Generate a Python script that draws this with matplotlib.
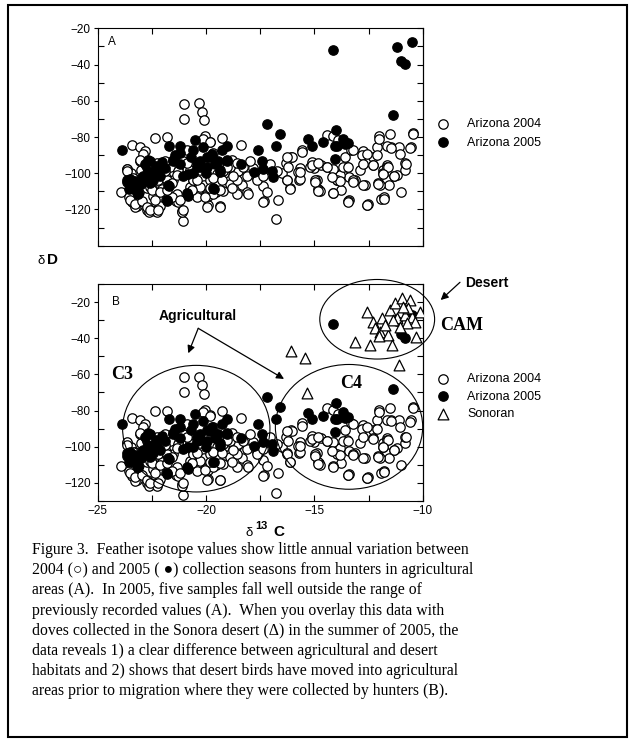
import numpy as np
import matplotlib
matplotlib.use('Agg')
import matplotlib.pyplot as plt
from matplotlib.ticker import MultipleLocator
from matplotlib.patches import Ellipse, Rectangle

plt.rcParams['font.family'] = ['Liberation Sans', 'DejaVu Sans']
plt.rcParams['font.size'] = 8.5
plt.rcParams['axes.linewidth'] = 0.8

# Arizona 2004 (open circles): d13C, dD
az04_x = [-23.92, -23.4, -23.05, -22.8, -22.34, -21.78, -21.0, -21.0, -20.33, -20.2, -20.1, -20.05, -19.27, -19.83, -18.37,
          -21.04, -21.09, -21.4, -19.9, -19.34, -22.65, -22.34, -22.15, -23.18, -23.4, -23.55, -23.08, -22.71, -22.99, -23.64,
          -23.46, -22.52, -22.39, -22.06, -21.84, -21.69, -21.5, -21.31, -20.76, -20.61, -20.38, -20.1, -19.92, -19.55, -19.45,
          -19.18, -18.99, -18.8, -18.62, -18.34, -18.11, -17.82, -17.65, -17.37, -17.31, -16.70, -16.77, -16.48, -16.25, -16.14,
          -16.07, -16.33, -15.64, -15.55, -15.73, -15.02, -14.89, -14.80, -14.71, -14.43, -14.13, -14.09, -13.96, -13.78, -13.5,
          -13.59, -13.4, -13.31, -13.13, -12.88, -12.75, -12.66, -12.53, -12.29, -12.1, -12.01, -11.82, -11.67, -11.92, -11.54,
          -11.64, -11.45, -11.17, -11.08, -10.99, -10.8, -10.52, -10.43, -10.8,
          -23.66, -22.9, -23.43, -23.28, -22.74, -22.62, -22.28, -22.12, -22.43, -21.28, -21.12, -20.13, -19.82, -18.51, -17.97,
          -18.12, -18.59, -18.05, -17.36, -17.2, -16.28, -16.13, -16.2, -16.05, -16.28, -15.74, -15.66, -15.59, -15.2, -15.12,
          -14.97, -14.82, -14.74, -14.43, -14.13, -14.16, -13.9,
          -23.05, -22.74, -22.28, -22.05, -21.66, -21.51, -21.35, -20.74, -20.59, -20.28, -20.05, -19.82, -19.51, -19.2, -19.2,
          -18.9, -18.9, -23.28, -22.59, -22.2, -21.89, -21.28, -21.05, -20.89, -23.05, -21.82, -20.43, -21.59, -19.67, -18.59,
          -18.28, -17.66, -17.36, -17.05, -16.74,
          -12.0, -11.51, -10.44, -11.66, -11.47, -10.59, -11.05, -10.77, -11.33, -11.82, -11.64, -12.05, -11.97, -11.77, -12.59,
          -13.44, -12.74, -12.28, -12.82, -13.2, -12.59, -12.13, -13.39, -13.2, -13.82, -13.97, -14.13, -13.67, -14.13, -13.44,
          -12.59, -11.79, -14.97, -14.82, -12.05, -11.31, -11.59, -11.82, -13.44, -13.23, -13.82, -14.17, -14.43, -15.12, -14.82,
          -12.74, -12.31, -15.66,
          -23.63, -23.36, -23.51, -23.28, -22.97, -22.74, -22.59, -22.2, -22.36, -22.51, -22.12, -21.82, -21.59, -21.35, -21.2,
          -21.05, -20.66, -20.43, -20.05, -19.82, -19.67, -19.36, -19.28, -19.05, -18.82, -18.74, -18.59, -19.97, -19.36,
          -23.05, -22.74, -22.28, -21.89, -20.89, -20.28, -19.67]
az04_y = [-110.6, -84.3, -85.3, -87.5, -80.3, -80.1, -61.7, -69.8, -61.5, -66.1, -70.7, -79.7, -80.3, -82.5, -84.2,
          -126.6, -120.6, -115.6, -117.6, -118.3, -119.8, -120.6, -118.9, -118.3, -115.6, -113.2, -110.1, -108.2, -98.1, -97.8,
          -100.0, -104.6, -112.9, -107.3, -114.7, -104.6, -100.0, -97.2, -98.1, -103.6, -110.1, -106.4, -112.8, -110.1, -104.6,
          -100.0, -96.3, -92.6, -100.0, -106.4, -110.1, -97.2, -102.7, -107.3, -115.6, -114.7, -125.3, -100.0, -103.6, -108.2,
          -90.8, -94.4, -97.2, -87.1, -103.6, -97.2, -103.6, -109.2, -95.4, -78.8, -79.7, -100.0, -103.6, -109.2, -96.3,
          -90.8, -115.0, -87.1, -103.6, -98.1, -88.0, -106.4, -116.9, -90.8, -85.3, -79.7, -98.1, -103.6, -114.3, -106.4,
          -95.4, -85.3, -100.9, -85.3, -110.1, -98.1, -85.3, -77.9, -94.4,
          -97.6, -89.3, -116.1, -118.8, -120.1, -121.6, -121.6, -117.9, -112.4, -116.1, -121.6, -80.9, -82.8, -98.5, -93.0,
          -101.3, -111.4, -111.4, -116.1, -110.5, -104.0, -108.6, -96.7, -91.1, -91.1, -99.4, -103.1, -88.4, -96.7, -93.9,
          -104.0, -108.6, -110.0, -96.7, -110.9, -102.2, -81.9,
          -93.0, -96.7, -98.5, -108.6, -96.7, -104.0, -111.4, -107.8, -104.0, -107.8, -112.4, -104.0, -100.3, -98.5, -109.6,
          -105.9, -96.7, -103.1, -107.8, -104.0, -93.0, -98.5, -93.0, -87.4, -115.1, -104.0, -113.3, -113.3, -111.4, -104.0,
          -96.7, -104.0, -101.3, -94.8, -98.5,
          -80.9, -78.6, -78.6, -85.2, -85.9, -86.1, -89.3, -94.8, -101.7, -100.0, -96.3, -105.3, -106.4, -113.3, -117.3,
          -115.5, -106.4, -95.2, -90.2, -87.4, -89.3, -90.2, -102.2, -104.0, -100.7, -104.0, -97.6, -96.7, -111.1, -115.7,
          -117.5, -114.2, -105.0, -109.6, -105.9, -101.8, -96.3, -100.3, -96.7, -104.6, -104.4, -102.2, -96.7, -95.7, -94.5,
          -94.8, -95.7, -99.4,
          -99.0, -102.8, -114.7, -116.9, -115.6, -118.4, -120.2, -120.2, -114.7, -109.2, -110.1, -109.2, -105.5, -100.9, -114.7,
          -120.2, -109.2, -103.6, -112.9, -108.3, -102.8, -109.2, -103.6, -96.3, -108.3, -101.8, -94.5, -118.4, -118.4,
          -92.6, -96.3, -94.5, -99.0, -94.5, -98.2, -88.9]

# Arizona 2005 (filled circles)
az05_x = [-23.86, -23.66, -23.51, -23.36, -23.2, -23.54, -23.13, -22.9, -22.82, -22.59, -22.51, -22.43, -22.12, -22.05,
          -21.82, -21.7, -21.51, -21.43, -21.2, -21.05, -20.85, -20.82, -20.59, -20.51, -20.43, -20.28, -20.13, -19.97,
          -19.82, -19.74, -19.62, -19.44, -19.36, -19.28, -19.05, -19.05, -17.59, -17.43, -17.36, -16.97, -16.92, -17.2,
          -16.59, -16.77, -15.28, -15.12, -14.59, -14.02, -14.05, -14.05, -14.13, -11.2, -10.48, -11.0, -10.82, -11.39,
          -13.67, -13.97, -13.59, -13.44, -21.69, -18.4, -17.8, -23.3, -23.0, -22.7, -21.9, -21.2, -20.7, -20.0, -19.6, -22.3,
          -23.66, -23.28, -23.13, -22.9, -22.66, -22.59, -22.28, -21.82, -21.74, -21.51, -21.2, -20.89, -20.59, -20.43,
          -20.28, -19.97, -19.67, -19.36, -19.05]
az05_y = [-87.4, -105.0, -103.1, -107.4, -109.6, -108.6, -111.4, -102.2, -94.8, -93.0, -101.3, -103.5, -101.8, -93.9,
          -115.1, -106.8, -93.0, -90.2, -84.7, -101.3, -112.4, -100.3, -87.4, -81.9, -96.7, -93.0, -85.6, -96.7,
          -91.1, -89.3, -108.6, -93.0, -99.4, -87.4, -84.7, -93.0, -87.4, -93.0, -97.6, -98.5, -102.2, -72.6,
          -78.2, -84.7, -81.3, -84.7, -82.8, -76.0, -84.7, -92.0, -32.0, -30.2, -27.4, -37.9, -39.8, -68.0,
          -80.9, -84.7, -84.1, -83.4, -84.7, -95.0, -99.5, -104.5, -106.0, -99.0, -97.0, -95.0, -91.0, -100.0, -95.0, -96.0,
          -103.6, -108.3, -111.1, -101.8, -92.6, -105.5, -100.0, -114.7, -106.4, -92.6, -88.9, -111.1, -100.0, -94.5,
          -96.3, -90.8, -108.3, -98.1, -92.6]

# Sonoran desert (triangles)
son_x = [-12.59, -12.31, -12.2, -11.97, -11.89, -11.59, -11.43, -12.43, -13.13, -12.0, -11.51, -11.28, -10.97, -10.59,
         -11.2, -10.82, -10.51, -10.13, -10.36, -10.71, -11.05, -10.31, -11.36, -11.74, -11.08, -10.67, -10.93,
         -16.1, -15.45, -15.32]
son_y = [-25.3, -30.8, -34.5, -36.4, -29.0, -38.2, -43.7, -43.7, -41.9, -38.8, -24.4, -20.7, -17.9, -18.8,
         -29.0, -27.1, -28.1, -25.3, -30.8, -31.7, -33.6, -39.5, -29.9, -32.7, -54.8, -23.4, -22.5,
         -46.9, -51.1, -70.1]

caption = [
    "Figure 3.  Feather isotope values show little annual variation between",
    "2004 (\u25cb) and 2005 ( \u25cf) collection seasons from hunters in agricultural",
    "areas (A).  In 2005, five samples fall well outside the range of",
    "previously recorded values (A).  When you overlay this data with",
    "doves collected in the Sonora desert (\u0394) in the summer of 2005, the",
    "data reveals 1) a clear difference between agricultural and desert",
    "habitats and 2) shows that desert birds have moved into agricultural",
    "areas prior to migration where they were collected by hunters (B).",
]

W, H = 632, 744
fig = plt.figure(figsize=(W / 100, H / 100), dpi=100)


def fx(px):
    return px / W


def fy(py):
    return 1 - py / H


ax1 = fig.add_axes([fx(97.7), fy(245.7), 325 / W, 217.4 / H])
ax2 = fig.add_axes([fx(97.7), fy(501), 325 / W, 217 / H])

ms = 46
for ax in (ax1, ax2):
    ax.scatter(az04_x, az04_y, s=ms, facecolors='white', edgecolors='black', linewidths=0.9, zorder=2,
               label='Arizona 2004')
    ax.scatter(az05_x, az05_y, s=ms, facecolors='black', edgecolors='black', linewidths=0.9, zorder=3,
               label='Arizona 2005')
son = ax2.scatter(son_x, son_y, s=60, marker='^', facecolors='white', edgecolors='black', linewidths=0.9,
                  zorder=4, label='Sonoran')

ax1.set_ylim(-140, -20)
ax2.set_ylim(-130, -10)
for ax in (ax1, ax2):
    ax.set_xlim(-25, -10)
    ax.xaxis.set_major_locator(MultipleLocator(5))
    ax.xaxis.set_minor_locator(MultipleLocator(2.5))
    ax.set_yticks([-120, -100, -80, -60, -40, -20])
    ax.yaxis.set_minor_locator(MultipleLocator(10))
    ax.tick_params(axis='x', which='both', direction='in', top=True, length=4, width=0.8, pad=3)
    ax.tick_params(axis='y', which='major', direction='out', left=True, right=False, length=3, width=0.8, pad=2)
    ax.tick_params(axis='y', which='minor', direction='in', left=True, right=True, length=4, width=0.8)
    sec = ax.secondary_yaxis('right')
    sec.set_yticks([-120, -100, -80, -60, -40, -20])
    sec.tick_params(direction='in', length=4, width=0.8, labelright=False)
ax1.tick_params(labelbottom=False)

ax1.text(0.033, 0.936, 'A', transform=ax1.transAxes, ha='left', va='center', fontsize=8.5)
ax2.text(0.043, 0.918, 'B', transform=ax2.transAxes, ha='left', va='center', fontsize=8.5)

# legends
ax1.legend(loc='center left', bbox_to_anchor=(fx(437), fy(133.3)), bbox_transform=fig.transFigure,
           frameon=False, fontsize=9, handlelength=1.0, handletextpad=1.42, labelspacing=0.55,
           borderpad=0, borderaxespad=0, scatterpoints=1)
ax2.legend(loc='center left', bbox_to_anchor=(fx(437), fy(396.7)), bbox_transform=fig.transFigure,
           frameon=False, fontsize=9, handlelength=1.0, handletextpad=1.42, labelspacing=0.45,
           borderpad=0, borderaxespad=0, scatterpoints=1)

# ellipses
for c, w, h, clip in [((-20.45, -90.0), 6.8, 70, True), ((-13.4, -89.0), 6.8, 69, True),
                      ((-12.1, -29.5), 5.3, 44, False)]:
    ax2.add_patch(Ellipse(c, w, h, fill=False, lw=0.8, color='black', zorder=5, clip_on=clip))

serif_b = dict(family='Liberation Serif', weight='bold', fontsize=13)
ax2.text(-24.4, -60.3, 'C3', ha='left', va='center', **serif_b)
ax2.text(-13.82, -64.9, 'C4', ha='left', va='center', **serif_b)
ax2.text(-9.2, -32.7, 'CAM', ha='left', va='center', clip_on=False, **serif_b)

arrow = dict(arrowstyle='-|>', color='black', lw=0.9, mutation_scale=11, shrinkA=0, shrinkB=0)
ax2.text(-20.39, -27.7, 'Agricultural', ha='center', va='center', fontsize=10, weight='bold')
ax2.annotate('', xy=(-20.82, -48.3), xytext=(-20.36, -34.5), arrowprops=arrow)
ax2.annotate('', xy=(-16.4, -62.5), xytext=(-20.36, -34.5), arrowprops=arrow)
ax2.annotate('', xy=(-9.17, -18.85), xytext=(-8.28, -9.06), arrowprops=arrow, annotation_clip=False)
fig.text(fx(465), fy(283.3), 'Desert', ha='left', va='center', fontsize=10, weight='bold')

# axis labels
fig.text(fx(38), fy(261), '\u03b4', ha='left', va='center', fontsize=9.5)
fig.text(fx(46.5), fy(260), 'D', ha='left', va='center', fontsize=11, weight='bold')
fig.text(fx(246), fy(533), '\u03b4', ha='left', va='center', fontsize=9.5)
fig.text(fx(255), fy(526), '13', ha='left', va='center', fontsize=8, weight='bold')
fig.text(fx(273.5), fy(531.5), 'C', ha='left', va='center', fontsize=11, weight='bold')

# caption
for i, line in enumerate(caption):
    fig.text(fx(32), fy(550 + i * 20.2), line, ha='left', va='center', fontsize=11.3,
             family=['Liberation Serif', 'DejaVu Sans'])

# outer frame
fig.add_artist(Rectangle((fx(8), fy(737)), (627 - 8) / W, (737 - 5) / H, transform=fig.transFigure,
                         fill=False, lw=1.5, edgecolor='black'))

fig.savefig('out.png', dpi=100)
